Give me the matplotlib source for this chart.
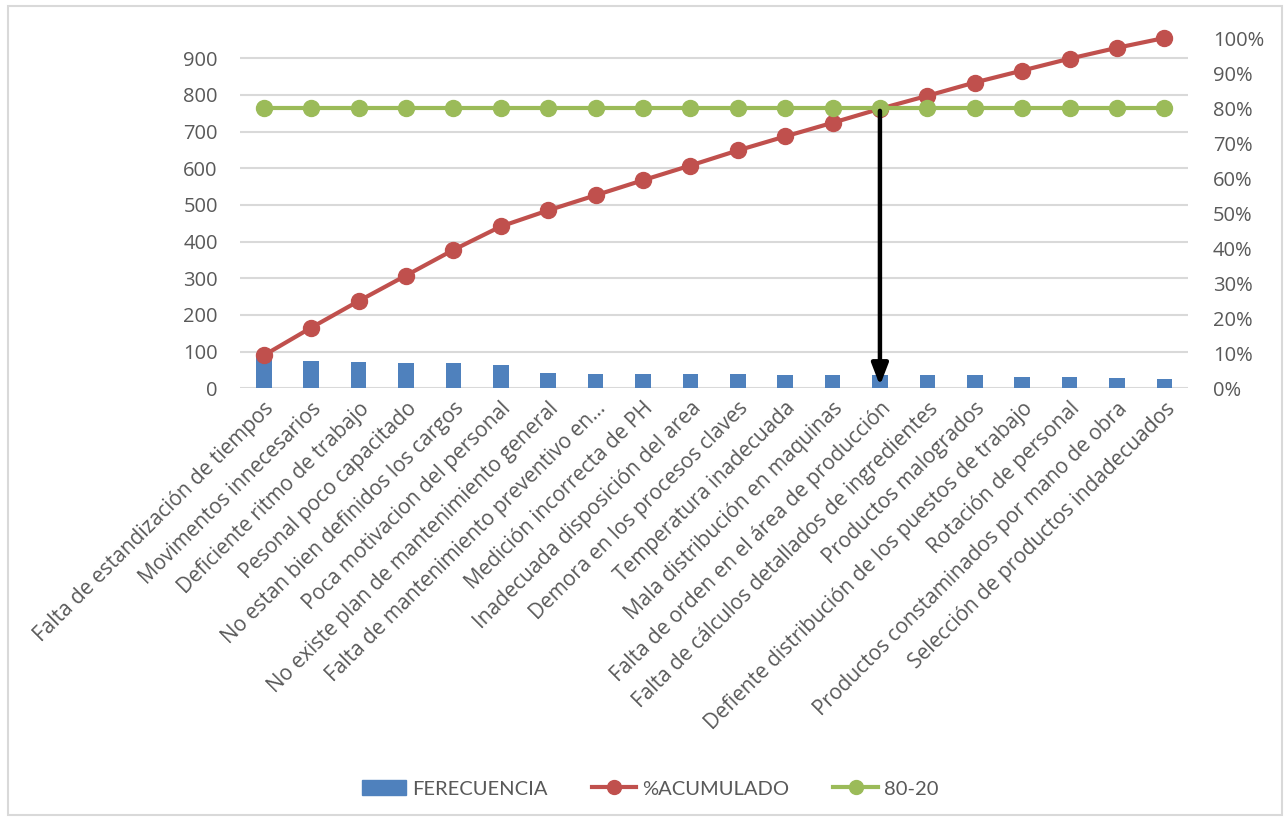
import matplotlib.pyplot as plt
from matplotlib.patches import Patch, Rectangle
from matplotlib.lines import Line2D
from matplotlib.ticker import PercentFormatter
import numpy as np

# Datos del diagrama de Pareto
causas = [
    "Falta de estandización de tiempos",
    "Movimentos innecesarios",
    "Deficiente ritmo de trabajo",
    "Pesonal poco capacitado",
    "No estan bien definidos los cargos",
    "Poca motivacion del personal",
    "No existe plan de mantenimiento general",
    "Falta de mantenimiento preventivo en…",
    "Medición incorrecta de PH",
    "Inadecuada disposición del area",
    "Demora en los procesos claves",
    "Temperatura inadecuada",
    "Mala distribución en maquinas",
    "Falta de orden en el área de producción",
    "Falta de cálculos detallados de ingredientes",
    "Productos malogrados",
    "Defiente distribución de los puestos de trabajo",
    "Rotación de personal",
    "Productos constaminados por mano de obra",
    "Selección de productos indadecuados",
]
frecuencia = [88, 74, 71, 68, 68, 63, 43, 40, 40, 40, 40, 37, 37, 37, 35, 35, 32, 32, 29, 26]
acumulado = [0.094, 0.173, 0.249, 0.322, 0.395, 0.462, 0.508, 0.551, 0.594, 0.636,
             0.679, 0.719, 0.758, 0.798, 0.835, 0.873, 0.907, 0.941, 0.972, 1.0]
linea_80_20 = [0.8] * 20
indice_corte = 13

azul = '#4F81BD'
rojo = '#C0504D'
verde = '#9BBB59'
gris = '#595959'

plt.rcParams['font.family'] = ['Open Sans', 'DejaVu Sans']

fig = plt.figure(figsize=(12.87, 8.21), dpi=100)
fig.patches.append(Rectangle((0.006, 0.007), 0.99, 0.986, transform=fig.transFigure,
                             fill=False, edgecolor='#D9D9D9', linewidth=1.5))
ax = fig.add_axes([0.1865, 0.527, 0.7366, 0.4267])
ax2 = ax.twinx()

x = np.arange(len(causas))
ax.bar(x, frecuencia, width=0.33, color=azul, zorder=2)
ax.set_ylim(0, 955)
ax.set_yticks(np.arange(0, 901, 100))
ax.set_xlim(-0.5, len(causas) - 0.5)
ax.yaxis.grid(True, color='#D9D9D9', linewidth=1.5, zorder=0)
ax.set_axisbelow(True)

ax2.plot(x, acumulado, color=rojo, lw=3, marker='o', ms=11.5, zorder=3, clip_on=False)
ax2.plot(x, linea_80_20, color=verde, lw=3, marker='o', ms=11.5, zorder=3, clip_on=False)
ax2.set_ylim(0, 1.0)
ax2.set_yticks(np.arange(0, 1.01, 0.1))
ax2.yaxis.set_major_formatter(PercentFormatter(1.0, decimals=0))

# Flecha del punto de corte 80-20
ax2.annotate('', xy=(indice_corte, 0.0), xytext=(indice_corte, linea_80_20[indice_corte]),
             arrowprops=dict(arrowstyle='-|>,head_width=0.5,head_length=1.3',
                             color='black', lw=3.2), zorder=4)

ax.set_xticks(x)
ax.set_xticklabels(causas, rotation=45, ha='right', rotation_mode='anchor', color=gris)
for a in (ax, ax2):
    for s in a.spines.values():
        s.set_visible(False)
    a.tick_params(length=0, labelsize=14.5, labelcolor=gris)
ax.tick_params(axis='y', pad=16)
ax.tick_params(axis='x', pad=7, labelsize=15)
ax2.tick_params(axis='y', pad=18)

handles = [
    Patch(color=azul),
    Line2D([], [], color=rojo, lw=3, marker='o', ms=10),
    Line2D([], [], color=verde, lw=3, marker='o', ms=10),
]
fig.legend(handles, ['FERECUENCIA', '%ACUMULADO', '80-20'], loc='center',
           bbox_to_anchor=(0.505, 0.039), ncol=3, frameon=False,
           prop={'family': ['Lato', 'DejaVu Sans'], 'size': 14.5},
           labelcolor=gris, handlelength=2.2, handletextpad=0.3, columnspacing=2.2)

fig.savefig('out.png', dpi=100)
